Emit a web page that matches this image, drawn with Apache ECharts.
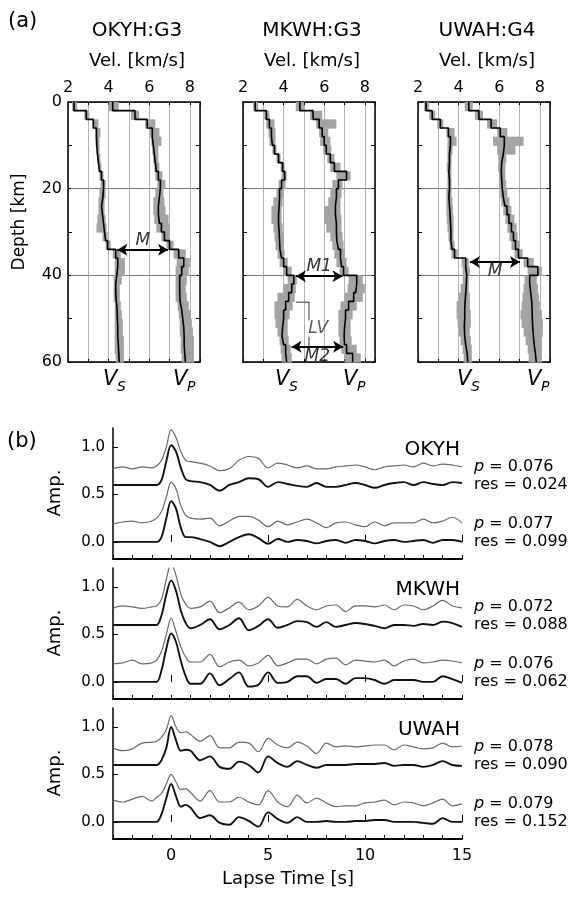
<!DOCTYPE html>
<html><head><meta charset="utf-8">
<script src="https://cdn.jsdelivr.net/npm/echarts/dist/echarts.min.js"></script>
<style>html,body{margin:0;padding:0;background:#fff}#c{width:571px;height:897px}</style>
</head><body><div id="c"></div>
<script>
// ---------- (a) velocity profiles: 2 km layers ----------
const layerTops = [0,2,4,6,8,10,12,14,16,18,20,22,24,26,28,30,32,34,36,38,40,42,44,46,48,50,52,54,56,58];
const LAYER = 2;
const profileTitles = ['OKYH:G3','MKWH:G3','UWAH:G4'];
const velTicks = [2,4,6,8];
const depthTicks = [0,20,40,60];

const okyhVs   = [2.3,2.9,3.25,3.4,3.42,3.45,3.5,3.55,3.65,3.75,3.72,3.65,3.7,3.75,3.8,3.85,3.95,4.35,4.45,4.4,4.35,4.35,4.38,4.42,4.43,4.45,4.45,4.48,4.5,4.52];
const okyhVsLo = [2.2,2.8,3.2,3.35,3.35,3.4,3.45,3.5,3.55,3.6,3.55,3.5,3.5,3.45,3.4,3.7,3.85,4.2,4.3,4.3,4.25,4.25,4.25,4.3,4.3,4.3,4.3,4.3,4.3,4.35];
const okyhVsHi = [2.45,3.05,3.5,3.6,3.55,3.55,3.6,3.65,3.75,3.85,3.85,3.8,3.8,3.85,3.9,3.95,4.1,4.6,4.8,4.8,4.65,4.55,4.55,4.6,4.65,4.7,4.7,4.75,4.75,4.75];
const okyhVp   = [4.2,5.3,5.9,6.15,6.2,6.25,6.3,6.35,6.45,6.55,6.5,6.45,6.45,6.5,6.6,6.75,7.0,7.45,7.7,7.6,7.5,7.5,7.52,7.6,7.65,7.7,7.72,7.72,7.75,7.78];
const okyhVpLo = [4.0,5.1,5.8,6.05,6.1,6.15,6.2,6.25,6.3,6.4,6.3,6.2,6.2,6.25,6.35,6.6,6.85,7.2,7.35,7.3,7.3,7.3,7.3,7.4,7.45,7.5,7.5,7.55,7.55,7.6];
const okyhVpHi = [4.5,5.5,6.3,6.5,6.6,6.45,6.45,6.5,6.65,6.8,6.7,6.75,6.8,6.95,7.0,7.0,7.2,7.8,8.0,7.95,7.85,7.8,7.85,7.95,8.05,8.1,8.15,8.2,8.2,8.2];

const mkwhVs   = [2.6,3.15,3.3,3.4,3.45,3.55,3.75,3.95,4.05,3.9,3.8,3.78,3.75,3.75,3.78,3.8,3.82,3.9,4.0,4.15,4.5,4.4,4.25,4.1,4.0,3.95,3.92,4.0,4.1,4.15];
const mkwhVsLo = [2.5,3.05,3.15,3.25,3.3,3.45,3.65,3.85,3.9,3.75,3.65,3.5,3.4,3.4,3.5,3.55,3.6,3.7,3.8,4.0,4.2,4.0,3.7,3.55,3.55,3.6,3.7,3.8,3.85,3.9];
const mkwhVsHi = [2.75,3.3,3.55,3.6,3.6,3.65,3.85,4.05,4.15,4.1,4.0,3.95,3.9,3.9,3.95,4.0,4.0,4.05,4.2,4.4,4.65,4.6,4.55,4.45,4.3,4.2,4.2,4.25,4.35,4.4];
const mkwhVp   = [4.8,5.45,5.75,5.9,6.0,6.1,6.3,6.5,7.1,6.7,6.6,6.55,6.55,6.6,6.6,6.62,6.7,6.8,6.85,6.95,7.6,7.55,7.45,7.2,7.05,7.0,6.98,7.0,7.1,7.4];
const mkwhVpLo = [4.6,5.3,5.6,5.75,5.8,5.95,6.15,6.3,6.6,6.4,6.3,6.2,6.0,6.0,6.1,6.3,6.4,6.5,6.6,6.75,7.2,7.15,7.0,6.8,6.7,6.7,6.7,6.75,6.85,7.0];
const mkwhVpHi = [5.0,5.9,6.6,6.2,6.3,6.35,6.5,6.8,7.3,6.9,6.85,6.8,6.8,6.85,6.85,6.9,6.95,7.0,7.1,7.2,7.9,8.0,7.9,7.6,7.4,7.3,7.3,7.35,7.6,7.8];

const uwahVs   = [2.4,2.7,3.1,3.5,3.6,3.55,3.55,3.52,3.55,3.55,3.52,3.55,3.58,3.6,3.62,3.62,3.68,3.8,4.35,4.4,4.38,4.35,4.32,4.3,4.3,4.28,4.3,4.35,4.42,4.45];
const uwahVsLo = [2.3,2.55,2.95,3.4,3.45,3.45,3.45,3.42,3.45,3.45,3.4,3.4,3.4,3.42,3.45,3.5,3.55,3.65,4.15,4.2,4.2,4.1,4.0,3.9,3.9,3.95,4.0,4.1,4.2,4.25];
const uwahVsHi = [2.55,2.85,3.25,3.8,3.9,3.7,3.65,3.65,3.65,3.65,3.65,3.7,3.72,3.75,3.75,3.75,3.8,3.95,4.5,4.55,4.5,4.5,4.55,4.55,4.6,4.6,4.55,4.6,4.65,4.65];
const uwahVp   = [4.5,5.0,5.6,6.05,6.25,6.2,6.12,6.1,6.12,6.15,6.2,6.28,6.38,6.48,6.6,6.7,6.8,6.95,7.4,7.9,7.5,7.55,7.6,7.62,7.63,7.65,7.68,7.72,7.78,7.82];
const uwahVpLo = [4.3,4.8,5.4,5.9,5.7,5.9,5.95,5.95,6.0,6.0,6.05,6.1,6.2,6.3,6.4,6.5,6.6,6.75,7.2,7.4,7.25,7.2,7.15,7.1,7.05,7.1,7.2,7.3,7.4,7.45];
const uwahVpHi = [4.7,5.2,5.9,6.4,7.2,6.8,6.35,6.3,6.3,6.35,6.4,6.5,6.6,6.75,6.85,6.9,7.0,7.15,7.7,8.1,7.85,7.9,7.95,8.0,8.1,8.15,8.15,8.1,8.1,8.1];

// Moho arrows: [depth, vsEnd, vpEnd, label, label side]
const okyhArrows = [[34.1,4.43,6.93,'M','above']];
const mkwhArrows = [[40.2,4.6,6.9,'M1','above'],[56.5,4.39,6.93,'M2','below']];
const uwahArrows = [[36.9,4.56,7.02,'M','below']];
const mkwhLvBracket1 = [[4.6,46.2],[5.25,46.2],[5.25,50.4]];
const mkwhLvBracket2 = [[5.25,54.2],[5.25,56.5]];
const mkwhLvLabel = [5.7,52.3];

// ---------- (b) receiver functions ----------
const timeS = [-3,-2.5,-2,-1.5,-1,-0.75,-0.5,-0.25,0,0.25,0.5,0.75,1,1.5,2,2.5,3,3.5,4,4.5,5,5.5,6,6.5,7,7.5,8,8.5,9,9.5,10,10.5,11,11.5,12,12.5,13,13.5,14,14.5,15];
const stationNames = ['OKYH','MKWH','UWAH'];
const timeTicks = [0,5,10,15];
const ampTicks = [0,0.5,1.0];

const okyhGray1  = [0.77,0.79,0.77,0.79,0.78,0.80,0.86,1.00,1.18,1.10,0.95,0.86,0.845,0.83,0.80,0.75,0.77,0.86,0.90,0.88,0.78,0.83,0.81,0.78,0.80,0.77,0.77,0.79,0.80,0.81,0.79,0.76,0.79,0.80,0.81,0.79,0.83,0.80,0.82,0.81,0.79];
const okyhBlack1 = [0.60,0.60,0.60,0.60,0.60,0.60,0.65,0.85,1.02,0.95,0.78,0.66,0.64,0.63,0.60,0.54,0.60,0.63,0.67,0.66,0.58,0.63,0.61,0.59,0.58,0.62,0.58,0.58,0.60,0.62,0.60,0.57,0.60,0.62,0.63,0.60,0.63,0.61,0.60,0.63,0.62];
const okyhGray2  = [0.19,0.21,0.22,0.20,0.22,0.25,0.32,0.47,0.63,0.56,0.38,0.28,0.25,0.24,0.25,0.17,0.22,0.27,0.27,0.23,0.16,0.22,0.18,0.21,0.24,0.20,0.15,0.20,0.21,0.18,0.16,0.21,0.17,0.20,0.20,0.20,0.24,0.20,0.22,0.26,0.20];
const okyhBlack2 = [0,0,0,0,0,0,0.05,0.25,0.43,0.35,0.15,0.05,0.05,0.03,0.00,-0.045,0.00,0.05,0.08,0.04,-0.02,0.03,0.00,0.02,0.01,-0.015,0.01,0.02,-0.01,0.02,0.01,-0.015,0.01,0.02,0.00,0.01,0.02,-0.01,0.02,0.02,0.00];

const mkwhGray1  = [0.775,0.80,0.79,0.775,0.79,0.80,0.87,1.08,1.25,1.12,0.92,0.82,0.775,0.79,0.85,0.73,0.78,0.84,0.76,0.80,0.89,0.80,0.79,0.87,0.80,0.76,0.80,0.81,0.74,0.80,0.80,0.79,0.81,0.76,0.81,0.80,0.76,0.80,0.86,0.80,0.78];
const mkwhBlack1 = [0.60,0.60,0.60,0.60,0.60,0.60,0.70,0.92,1.07,0.96,0.75,0.62,0.565,0.60,0.66,0.555,0.60,0.67,0.545,0.59,0.66,0.57,0.60,0.64,0.63,0.58,0.63,0.58,0.60,0.62,0.61,0.59,0.565,0.60,0.60,0.59,0.61,0.60,0.635,0.62,0.58];
const mkwhGray2  = [0.19,0.20,0.23,0.19,0.20,0.23,0.32,0.50,0.67,0.53,0.37,0.26,0.21,0.21,0.29,0.16,0.21,0.23,0.17,0.20,0.28,0.17,0.20,0.24,0.24,0.19,0.24,0.25,0.18,0.23,0.22,0.21,0.23,0.17,0.22,0.24,0.20,0.21,0.23,0.22,0.20];
const mkwhBlack2 = [0,0,0,0,0,0,0.12,0.35,0.51,0.42,0.22,0.06,-0.02,-0.02,0.09,-0.035,0.03,0.10,-0.05,-0.03,0.10,-0.01,0.00,0.06,0.06,-0.01,0.03,0.03,-0.02,0.04,0.04,0.02,-0.02,0.02,0.02,0.02,0.00,0.00,0.06,0.03,-0.01];

const uwahGray1  = [0.78,0.75,0.77,0.83,0.84,0.85,0.89,0.97,1.12,1.00,0.94,0.95,0.92,0.85,0.91,0.78,0.78,0.84,0.83,0.74,0.88,0.81,0.78,0.84,0.80,0.72,0.83,0.79,0.80,0.79,0.80,0.81,0.81,0.76,0.81,0.79,0.77,0.78,0.83,0.79,0.80];
const uwahBlack1 = [0.60,0.60,0.60,0.60,0.60,0.60,0.65,0.78,1.00,0.86,0.75,0.76,0.75,0.65,0.69,0.58,0.56,0.635,0.60,0.52,0.69,0.62,0.58,0.64,0.60,0.57,0.60,0.60,0.60,0.61,0.61,0.61,0.62,0.59,0.60,0.60,0.58,0.60,0.64,0.60,0.59];
const uwahGray2  = [0.23,0.21,0.24,0.27,0.22,0.26,0.30,0.40,0.50,0.42,0.34,0.35,0.31,0.22,0.33,0.21,0.21,0.26,0.21,0.18,0.33,0.21,0.16,0.28,0.20,0.25,0.20,0.16,0.17,0.17,0.20,0.21,0.23,0.18,0.21,0.20,0.17,0.20,0.24,0.17,0.19];
const uwahBlack2 = [0,0,0,0,0,0,0.08,0.25,0.40,0.27,0.16,0.18,0.15,0.04,0.07,-0.01,-0.03,0.05,0.01,-0.05,0.10,0.03,-0.01,0.05,0.00,0.00,0.01,0.00,0.00,0.01,0.01,0.02,0.02,0.00,0.00,0.00,-0.01,-0.02,0.04,0.00,0.00];

const pValues   = [['0.076','0.077'],['0.072','0.076'],['0.078','0.079']];
const resValues = [['0.024','0.099'],['0.088','0.062'],['0.090','0.152']];

// ---------- build ----------
const FAM = '"DejaVu Sans", Verdana, sans-serif';
const profiles = [
  {vs:okyhVs,vsLo:okyhVsLo,vsHi:okyhVsHi,vp:okyhVp,vpLo:okyhVpLo,vpHi:okyhVpHi,arrows:okyhArrows},
  {vs:mkwhVs,vsLo:mkwhVsLo,vsHi:mkwhVsHi,vp:mkwhVp,vpLo:mkwhVpLo,vpHi:mkwhVpHi,arrows:mkwhArrows},
  {vs:uwahVs,vsLo:uwahVsLo,vsHi:uwahVsHi,vp:uwahVp,vpLo:uwahVpLo,vpHi:uwahVpHi,arrows:uwahArrows}
];
const traces = [
  [okyhGray1,okyhBlack1,okyhGray2,okyhBlack2],
  [mkwhGray1,mkwhBlack1,mkwhGray2,mkwhBlack2],
  [uwahGray1,uwahBlack1,uwahGray2,uwahBlack2]
];

const aLeft = [68,243,418], aTop = 102, aW = 132, aH = 260;
const bTop = [428,568,708], bLeft = 113, bW = 349, bH = 131;

const grid = [], xAxis = [], yAxis = [], series = [], graphic = [];
const black = '#000';
function txt(x, y, text, size, opts) {
  opts = opts || {};
  const el = {type:'text', x:x, y:y, z:100,
    style:{text:text, font:`${opts.italic?'italic ':''}${size}px ${FAM}`, fill:black,
      textAlign:opts.align||'center', textVerticalAlign:'middle'}};
  if (opts.rotation) el.rotation = opts.rotation;
  if (opts.rich) el.style.rich = opts.rich;
  return el;
}

profiles.forEach((p,i)=>{
  grid.push({left:aLeft[i], top:aTop, width:aW, height:aH});
  xAxis.push({gridIndex:i, type:'value', position:'top', min:2, max:8.5, interval:1,
    axisLine:{show:true,onZero:false,lineStyle:{color:black,width:1.5}},
    axisTick:{show:true,inside:true,length:3,lineStyle:{color:black}},
    axisLabel:{formatter:v=>velTicks.includes(v)?String(v):'', fontSize:16, color:black, fontFamily:FAM, margin:6},
    splitLine:{show:true,lineStyle:{color:'#a0a0a0',width:0.8}}});
  xAxis.push({gridIndex:i, type:'value', position:'bottom', min:2, max:8.5, interval:1,
    axisLine:{show:true,onZero:false,lineStyle:{color:black,width:1.5}},
    axisTick:{show:true,inside:true,length:3,lineStyle:{color:black}},
    axisLabel:{show:false}, splitLine:{show:false}});
  yAxis.push({gridIndex:i, type:'value', inverse:true, min:0, max:60, interval:20, position:'left',
    axisLine:{show:true,onZero:false,lineStyle:{color:black,width:1.5}},
    axisTick:{show:true,inside:true,length:3,lineStyle:{color:black}},
    minorTick:{show:true,splitNumber:2,length:4,lineStyle:{color:black}},
    axisLabel:{show:i===0, fontSize:16, color:black, fontFamily:FAM, margin:6,
      formatter:v=>depthTicks.includes(v)?String(v):''},
    splitLine:{show:true,lineStyle:{color:'#555',width:0.8}}});
  yAxis.push({gridIndex:i, type:'value', inverse:true, min:0, max:60, interval:20, position:'right',
    axisLine:{show:true,onZero:false,lineStyle:{color:black,width:1.5}},
    axisTick:{show:true,inside:true,length:3,lineStyle:{color:black}},
    minorTick:{show:true,splitNumber:2,length:4,lineStyle:{color:black}},
    axisLabel:{show:false}, splitLine:{show:false}});

  const boxRender = (params, api) => {
    const a = api.coord([api.value(0), api.value(2)]);
    const b = api.coord([api.value(1), api.value(3)]);
    return {type:'rect', shape:{x:a[0], y:a[1], width:b[0]-a[0], height:b[1]-a[1]+0.6},
      style:{fill:'#a4a4a4'}};
  };
  [[p.vsLo,p.vsHi],[p.vpLo,p.vpHi]].forEach(([lo,hi])=>{
    series.push({type:'custom', xAxisIndex:2*i, yAxisIndex:2*i, renderItem:boxRender, z:1, silent:true,
      encode:{x:[0,1], y:[2,3]},
      data:layerTops.map((d,k)=>[lo[k],hi[k],d,d+LAYER])});
  });
  [p.vs,p.vp].forEach((vals,idx)=>{
    const s = {type:'line', xAxisIndex:2*i, yAxisIndex:2*i, showSymbol:false, z:3, silent:true,
      lineStyle:{color:black,width:1.6},
      data:layerTops.flatMap((d,k)=>[[vals[k],d],[vals[k],d+LAYER]])};
    if(idx===0){
      s.markLine = {silent:true, symbol:['arrow','arrow'], symbolSize:[9,10], animation:false,
        lineStyle:{color:black,width:2,type:'solid'},
        data:p.arrows.map(a=>[
          {coord:[a[1],a[0]], label:{show:true, formatter:a[3], position:a[4]==='above'?'middle':'insideMiddleBottom',
            fontSize:17, fontStyle:'italic', color:'#333', fontFamily:FAM, distance:1}},
          {coord:[a[2],a[0]]}])};
    }
    series.push(s);
  });
  if(i===1){
    [mkwhLvBracket1, mkwhLvBracket2].forEach(br=>{
      series.push({type:'line', xAxisIndex:2, yAxisIndex:2, showSymbol:false, z:4, silent:true,
        lineStyle:{color:'#333',width:1}, data:br});
    });
    series.push({type:'scatter', xAxisIndex:2, yAxisIndex:2, symbolSize:0, z:5, silent:true,
      data:[mkwhLvLabel],
      label:{show:true, position:'inside', formatter:'LV', fontSize:17, fontStyle:'italic', color:'#333', fontFamily:FAM}});
  }
  const cx = aLeft[i] + aW/2 + 3;
  graphic.push(txt(cx, 31, profileTitles[i], 20));
  graphic.push(txt(cx, 61, 'Vel. [km/s]', 18));
});

// V_S / V_P labels
const vLabelX = [[103,173],[275,343],[457,527]];
vLabelX.forEach(([xs,xp])=>{
  [[xs,'S'],[xp,'P']].forEach(([x,sub])=>{
    graphic.push(txt(x, 380, 'V', 21, {italic:true, align:'left'}));
    graphic.push(txt(x+14, 387, sub, 14, {italic:true, align:'left'}));
  });
});
graphic.push(txt(8, 22, '(a)', 21, {align:'left'}));
graphic.push(txt(20, 222, 'Depth [km]', 17, {rotation:Math.PI/2}));
graphic.push(txt(7, 442, '(b)', 21, {align:'left'}));

// (b) panels
traces.forEach((tr,j)=>{
  const g = 3 + j;
  grid.push({left:bLeft, top:bTop[j], width:bW, height:bH});
  const xi = xAxis.length;
  xAxis.push({gridIndex:g, type:'value', position:'bottom', min:-3, max:15, interval:1,
    axisLine:{show:true,onZero:false,lineStyle:{color:black,width:2}},
    axisTick:{show:true,inside:true,length:4,lineStyle:{color:black}},
    axisLabel:{show:j===2, formatter:v=>timeTicks.includes(v)?String(v):'', fontSize:16, color:black, fontFamily:FAM, margin:9},
    splitLine:{show:false}});
  xAxis.push({gridIndex:g, type:'value', position:'bottom', min:-3, max:15,
    axisLine:{show:false},
    axisTick:{show:true,inside:true,length:7,customValues:timeTicks,lineStyle:{color:black}},
    axisLabel:{show:false}, splitLine:{show:false}});
  const yi = yAxis.length;
  yAxis.push({gridIndex:g, type:'value', min:-0.18, max:1.2, position:'left',
    axisLine:{show:true,onZero:false,lineStyle:{color:black,width:1.5}},
    axisTick:{show:true,inside:true,length:5,customValues:ampTicks,lineStyle:{color:black}},
    axisLabel:{show:true, customValues:ampTicks, formatter:v=>v.toFixed(1), fontSize:15, color:black, fontFamily:FAM, margin:8},
    splitLine:{show:false}});
  tr.forEach((vals,k)=>{
    const isGray = k%2===0;
    series.push({type:'line', xAxisIndex:xi, yAxisIndex:yi, showSymbol:false, smooth:0.35, silent:true,
      z: isGray?2:3,
      lineStyle:{color:isGray?'#6a6a6a':'#111', width:isGray?1.2:1.9},
      data:timeS.map((t,n)=>[t, vals[n]])});
  });
  const top = bTop[j];
  graphic.push(txt(460, top+22, stationNames[j], 20, {align:'right'}));
  const pr = [[pValues[j][0],resValues[j][0]],[pValues[j][1],resValues[j][1]]];
  pr.forEach(([pv,rv],m)=>{
    const y0 = top + (m===0?39:96);
    graphic.push(txt(474, y0, '{i|p} = '+pv, 16, {align:'left',
      rich:{i:{fontStyle:'italic', fontSize:16, fontFamily:FAM, fill:black}}}));
    graphic.push(txt(474, y0+18, 'res = '+rv, 16, {align:'left'}));
  });
  graphic.push(txt(55, top+65, 'Amp.', 18, {rotation:Math.PI/2}));
});
graphic.push(txt(288, 879, 'Lapse Time [s]', 18));

const chart = echarts.init(document.getElementById('c'), null, {renderer:'canvas'});
chart.setOption({animation:false, backgroundColor:'#fff', grid, xAxis, yAxis, series, graphic});
</script></body></html>
